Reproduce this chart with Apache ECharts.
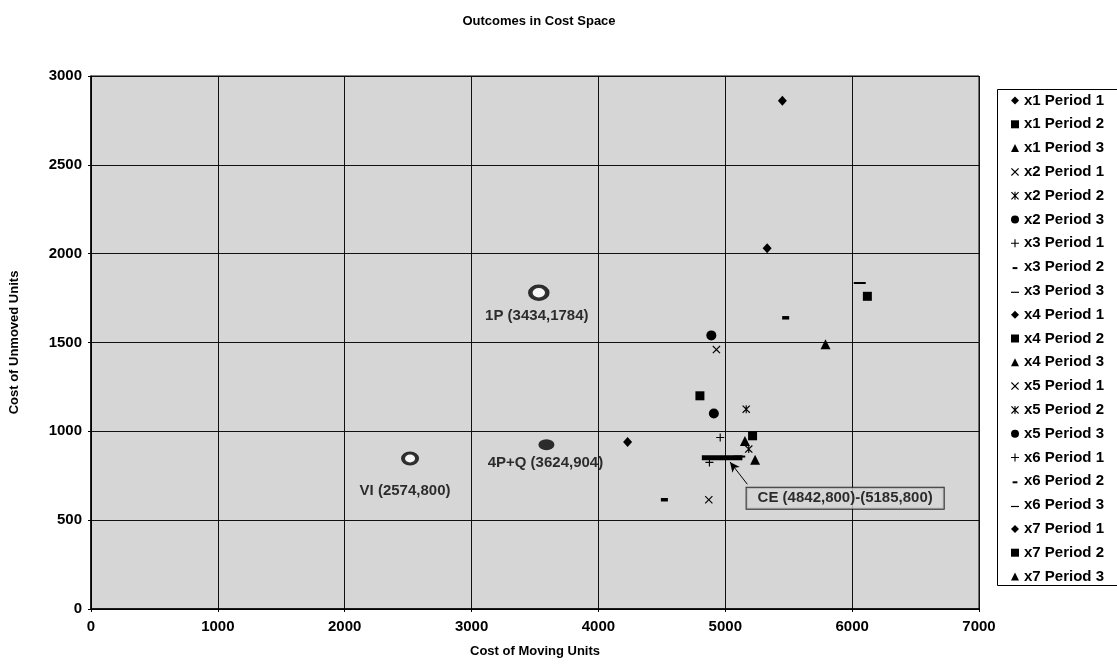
<!DOCTYPE html>
<html>
<head>
<meta charset="utf-8">
<script src="https://cdn.jsdelivr.net/npm/echarts@6/dist/echarts.min.js"></script>
<style>html,body{margin:0;padding:0;background:#fff;}#c{width:1117px;height:667px;}</style>
</head>
<body>
<div id="c"></div>
<script>
// ---- data ----
const seriesNames = ['x1 Period 1','x1 Period 2','x1 Period 3','x2 Period 1','x2 Period 2','x2 Period 3','x3 Period 1','x3 Period 2','x3 Period 3','x4 Period 1','x4 Period 2','x4 Period 3','x5 Period 1','x5 Period 2','x5 Period 3','x6 Period 1','x6 Period 2','x6 Period 3','x7 Period 1','x7 Period 2','x7 Period 3'];
const costMoving   = [5450,6120,5790,4930,5165,4890,4960,5476,6060,5330,4800,5155,4870,5185,4910,4875,4520,5110,4230,5215,5235];
const costUnmoved  = [2860,1760,1490,1460,1125,1540, 965,1639,1835,2030,1200, 945, 615, 900,1100, 825, 615, 858, 940, 975, 840];
const markerKinds  = ['diamond','square','triangle','x','star','circle','plus','shortdash','longdash','diamond','square','triangle','x','star','circle','plus','shortdash','longdash','diamond','square','triangle'];
const refNames  = ['1P (3434,1784)','VI (2574,800)','4P+Q (3624,904)'];
const refX      = [3530,2515,3590];
const refY      = [1780,847,925];
const ceRange   = [[4815,852],[5135,852]];
const ceLabel   = 'CE (4842,800)-(5185,800)';
const ceLabelAt = [5945,624];
const ceArrow   = [[5174,702],[5037,828]];
const xTicks = [0,1000,2000,3000,4000,5000,6000,7000];
const yTicks = [0,500,1000,1500,2000,2500,3000];

// ---- styles ----
const FONT = "'Liberation Sans', Arial, sans-serif";
const P_X = 'path://M0,1L1,0L5,4L9,0L10,1L6,5L10,9L9,10L5,6L1,10L0,9L4,5Z';
const P_STAR = 'path://M0,1L1,0L5,4L9,0L10,1L6,5L10,9L9,10L5,6L1,10L0,9L4,5Z M4.3,0H5.7V10H4.3Z';
const P_PLUS = 'path://M4.3,0H5.7V4.3H10V5.7H5.7V10H4.3V5.7H0V4.3H4.3Z';
const P_SDASH = 'path://M0,0L0,0M2,5H8V7.5H2Z M10,10L10,10';
const P_LDASH = 'path://M0,0L0,0M0,6H10V7.5H0Z M10,10L10,10';
const kindStyle = {
  diamond:  {symbol:'diamond', size:[9,10], icon:'diamond'},
  square:   {symbol:'rect', size:9, icon:'rect'},
  triangle: {symbol:'triangle', size:10, icon:'triangle'},
  x:        {symbol:P_X, size:8, icon:P_X},
  star:     {symbol:P_STAR, size:8, icon:P_STAR},
  circle:   {symbol:'circle', size:10, icon:'circle'},
  plus:     {symbol:P_PLUS, size:8, icon:P_PLUS},
  shortdash:{symbol:'rect', size:[7,3.5], icon:P_SDASH},
  longdash: {symbol:'rect', size:[12,2], icon:P_LDASH}
};

const series = seriesNames.map((n,i)=>{
  const k = kindStyle[markerKinds[i]];
  return {
    name:n, type:'scatter', data:[[costMoving[i], costUnmoved[i]]],
    symbol:k.symbol, symbolSize:k.size,
    itemStyle:{color:'#000', opacity:1}, z:5
  };
});

series.push({
  name:'refs', type:'scatter', z:6,
  data: refNames.map((n,i)=>{
    const base = {value:[refX[i], refY[i], n]};
    if (i===0) return Object.assign(base,{symbolSize:[17,13], itemStyle:{color:'#fff',borderColor:'#000',borderWidth:4}, label:{distance:7, offset:[-2,0]}});
    if (i===1) return Object.assign(base,{symbolSize:[14,11], itemStyle:{color:'#fff',borderColor:'#000',borderWidth:3.5}, label:{distance:18, offset:[-5,0]}});
    return Object.assign(base,{symbolSize:[16,11], itemStyle:{color:'#000'}, label:{distance:5, offset:[-1,0]}});
  }),
  symbol:'circle',
  label:{show:true, position:'bottom', formatter:p=>p.value[2], color:'#000', fontFamily:FONT, fontWeight:'bold', fontSize:15}
});

series.push({
  name:'CE', type:'line', data:ceRange, symbol:'none', z:4,
  lineStyle:{color:'#000', width:5},
  markLine:{
    silent:true, symbol:['none','arrow'], symbolSize:[7,10],
    lineStyle:{color:'#000', width:1, type:'solid'},
    label:{show:false},
    data:[[{coord:ceArrow[0]},{coord:ceArrow[1]}]]
  }
});
series.push({
  name:'CE label', type:'scatter', data:[ceLabelAt], symbolSize:0, z:7,
  label:{show:true, position:'inside', formatter:ceLabel, color:'#000', fontFamily:FONT, fontWeight:'bold', fontSize:15,
    borderColor:'#000', borderWidth:1, padding:[4,11,2,11], backgroundColor:'#d6d6d6'}
});

const chart = echarts.init(document.getElementById('c'), null, {renderer:'canvas'});
chart.setOption({
  backgroundColor:'#fff',
  animation:false,
  title:{text:'Outcomes in Cost Space', left:534, textAlign:'center', top:10,
    textStyle:{fontFamily:FONT, fontWeight:'bold', fontSize:13, color:'#000'}},
  grid:{left:89, right:138, top:76, bottom:58, show:true, backgroundColor:'#d6d6d6', borderColor:'#000', borderWidth:1},
  xAxis:{type:'value', min:xTicks[0], max:xTicks[xTicks.length-1], interval:1000,
    name:'Cost of Moving Units', nameLocation:'middle', nameGap:36,
    nameTextStyle:{fontFamily:FONT, fontWeight:'bold', fontSize:13, color:'#000'},
    axisLine:{show:true, lineStyle:{color:'#000', width:1.5}},
    axisTick:{show:true, length:3, lineStyle:{color:'#000'}},
    axisLabel:{fontFamily:FONT, fontWeight:'bold', fontSize:15, color:'#000', margin:10, formatter:v=>String(v)},
    splitLine:{show:true, lineStyle:{color:'#111', width:1}}},
  yAxis:{type:'value', min:yTicks[0], max:yTicks[yTicks.length-1], interval:500,
    name:'Cost of Unmoved Units', nameLocation:'middle', nameGap:70, nameRotate:90,
    nameTextStyle:{fontFamily:FONT, fontWeight:'bold', fontSize:13, color:'#000'},
    axisLine:{show:true, lineStyle:{color:'#000', width:1.5}},
    axisTick:{show:true, length:3, lineStyle:{color:'#000'}},
    axisLabel:{fontFamily:FONT, fontWeight:'bold', fontSize:15, color:'#000', margin:9, formatter:v=>String(v)},
    splitLine:{show:true, lineStyle:{color:'#111', width:1}}},
  legend:{orient:'vertical', left:1011, top:93, padding:0, itemWidth:8, itemHeight:8, itemGap:8.8,
    selectedMode:false,
    textStyle:{fontFamily:FONT, fontWeight:'bold', fontSize:15, color:'#000', lineHeight:15},
    data: seriesNames.map((n,i)=>({name:n, icon:kindStyle[markerKinds[i]].icon, itemStyle:{color:'#000'}}))},
  graphic:[{type:'rect', shape:{x:997.5, y:89.5, width:140, height:496}, style:{fill:'none', stroke:'#000', lineWidth:1}, silent:true}],
  series: series
});
</script>
</body>
</html>
